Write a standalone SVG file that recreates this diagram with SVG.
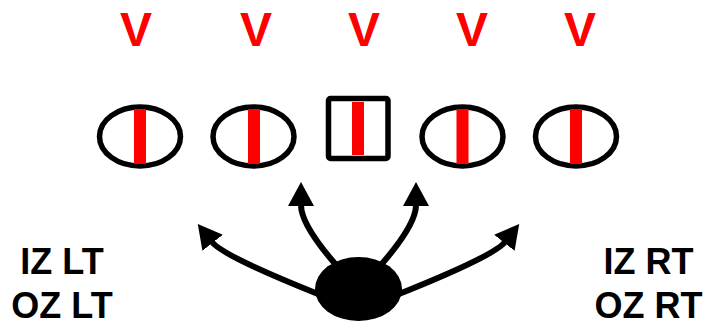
<svg xmlns="http://www.w3.org/2000/svg" width="707" height="322" viewBox="0 0 707 322">
<defs>
<style>
.v{font-family:"Liberation Sans",Arial,sans-serif;font-weight:bold;font-size:48px;fill:#ff0000;text-anchor:middle}
.lbl{font-family:"Liberation Sans",Arial,sans-serif;font-weight:bold;font-size:36px;fill:#000;text-anchor:middle}
.ol{fill:#fff;stroke:#000;stroke-width:5.5}
.bar{fill:#ff0000}
.arr{fill:none;stroke:#000;stroke-width:6;marker-end:url(#ah)}
</style>
<marker id="ah" markerUnits="userSpaceOnUse" viewBox="0 0 24 26" markerWidth="24" markerHeight="26" refX="1" refY="13" orient="auto">
<path d="M0,0 L24,13 L0,26 Z" fill="#000"/>
</marker>
</defs>
<g id="defense">
<text class="v" x="136" y="46">V</text>
<text class="v" x="256" y="46">V</text>
<text class="v" x="364" y="46">V</text>
<text class="v" x="472" y="46">V</text>
<text class="v" x="580" y="46">V</text>
</g>
<g id="lt"><ellipse class="ol" cx="140" cy="136.5" rx="40.5" ry="29.5"/><rect class="bar" x="134" y="109" width="12" height="55"/></g>
<g id="lg"><ellipse class="ol" cx="253.5" cy="136.5" rx="40.5" ry="29.5"/><rect class="bar" x="248" y="109" width="12" height="55"/></g>
<g id="c"><rect class="ol" x="328.5" y="98.5" width="59.5" height="60" rx="2" stroke-width="6"/><rect class="bar" x="352" y="102" width="12" height="53"/></g>
<g id="rg"><ellipse class="ol" cx="462.5" cy="136.5" rx="40.5" ry="29.5"/><rect class="bar" x="456.5" y="109" width="12" height="55"/></g>
<g id="rt"><ellipse class="ol" cx="576" cy="136.5" rx="40.5" ry="29.5"/><rect class="bar" x="570" y="109" width="12" height="55"/></g>
<g id="connectors">
<path class="arr" d="M318,294 Q223,256 212,242"/>
<path class="arr" d="M337,266 Q301,225 301,205"/>
<path class="arr" d="M380,266 Q416,225 416,205"/>
<path class="arr" d="M399,294 Q494,256 505,242"/>
</g>
<g id="ball"><ellipse cx="358.5" cy="289" rx="43.5" ry="32" fill="#000"/></g>
<g id="left-label">
<text class="lbl" x="62" y="274">IZ LT</text>
<text class="lbl" x="62" y="318">OZ LT</text>
</g>
<g id="right-label">
<text class="lbl" x="648.5" y="274">IZ RT</text>
<text class="lbl" x="648.5" y="318">OZ RT</text>
</g>
</svg>
